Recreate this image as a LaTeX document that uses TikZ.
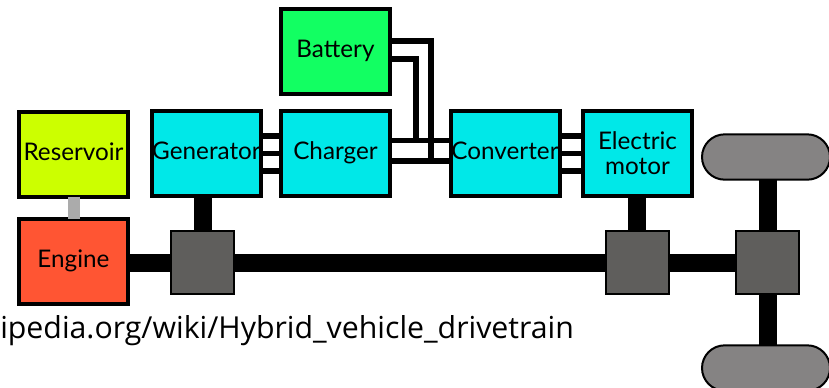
\documentclass[tikz,border=0pt]{standalone}
\usepackage{fontspec}
\setmainfont{Lato}
\newfontfamily\urlfont{Open Sans}
\definecolor{elec}{HTML}{00E8E8}
\definecolor{batt}{HTML}{12FF62}
\definecolor{fuel}{HTML}{CCFF00}
\definecolor{burn}{HTML}{FF5533}
\definecolor{gear}{HTML}{5F5E5C}
\definecolor{tyre}{HTML}{858383}
\tikzset{
    unit/.style={draw=black, line width=3pt, minimum width=81.75pt, minimum height=63.75pt,
        inner sep=0pt, outer sep=0pt, align=center, text height=13pt, text depth=4pt,
        font=\fontsize{18.2}{18.75}\selectfont},
    gearbox/.style={draw=black, fill=gear, line width=1.5pt, minimum width=47.25pt,
        minimum height=47.25pt, outer sep=0pt},
    wheel/.style={draw=black, fill=tyre, line width=1.5pt, minimum width=96pt,
        minimum height=34pt, rounded corners=17pt, outer sep=0pt},
    shaft/.style={line width=13.5pt, black},
    wire/.style={line width=4.2pt, black},
}
\begin{document}
\begin{tikzpicture}[x=0.75pt, y=-0.75pt]
    \clip (0,0) rectangle (829,387);
    % boxes
    \node[unit, fill=batt] (bat) at (335.5,51.5) {Battery};
    \node[unit, fill=fuel] (res) at (73.5,154) {Reservoir};
    \node[unit, fill=burn] (eng) at (73.5,261) {Engine};
    \node[unit, fill=elec] (gen) at (206.5,153.5) {Generator};
    \node[unit, fill=elec] (chg) at (335.5,153.5) {Charger};
    \node[unit, fill=elec] (con) at (505,153.5) {Converter};
    \node[unit, fill=elec, text height=, text depth=] (mot) at (637.5,153.5) {Electric\\motor};
    % drivetrain
    \node[gearbox] (gearA) at (202.5,262.5) {};
    \node[gearbox] (gearB) at (637,262.5) {};
    \node[gearbox] (gearC) at (767.5,262.5) {};
    \node[wheel] (front) at (766,157) {};
    \node[wheel] (rear) at (766,368) {};
    \draw[line width=9pt, black!33] (res) -- (eng);
    \draw[shaft] (eng.east |- gearA) -- (gearA.west);
    \draw[shaft] (gearA.east) -- (gearB.west);
    \draw[shaft] (gearB.east) -- (gearC.west);
    \draw[shaft] (gen.south -| gearA) -- (gearA.north);
    \draw[shaft] (mot.south -| gearB) -- (gearB.north);
    \draw[shaft] (front.south -| gearC) -- (gearC.north);
    \draw[shaft] (gearC.south) -- (rear.north -| gearC);
    % wires
    \foreach \a/\b in {gen/chg, con/mot} {
        \draw[wire] (\a.east) -- (\b.west);
        \draw[wire] ([yshift=13pt]\a.east) -- ([yshift=13pt]\b.west);
        \draw[wire] ([yshift=-13pt]\a.east) -- ([yshift=-13pt]\b.west);
    }
    \draw[wire] ([yshift=9.75pt]chg.east) -- ([yshift=9.75pt]con.west);
    \draw[wire] ([yshift=-5.6pt]chg.east) -- ([yshift=-5.6pt]con.west);
    \coordinate (tapA) at (416,140.5);
    \coordinate (tapB) at (431,161);
    \draw[wire] ([yshift=7.9pt]bat.east) -| (tapB);
    \draw[wire] ([yshift=-5.6pt]bat.east) -| (tapA);
    \node[anchor=base west, inner sep=0pt, font=\urlfont\fontsize{22.7}{26}\selectfont] (link) at (0,338)
        {ipedia.org/wiki/Hybrid\_vehicle\_drivetrain};
\end{tikzpicture}
\end{document}
